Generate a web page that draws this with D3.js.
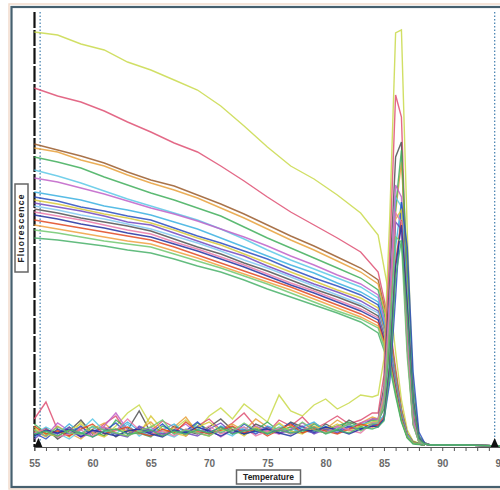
<!DOCTYPE html>
<html>
<head>
<meta charset="utf-8">
<script src="https://cdn.jsdelivr.net/npm/d3@7"></script>
<style>
  body { margin: 0; background: #fff; }
  svg { display: block; }
  .tick text { font-family: "Liberation Sans", sans-serif; font-weight: bold; font-size: 10px; fill: #6a6a6a; }
  .tick line { stroke: #555; }
</style>
</head>
<body>
<svg width="500" height="490"></svg>
<script>
// melt curve: temperature grid for the raw fluorescence traces
const fluorTemps = [55,57,59,61,63,65,67,69,71,73,75,77,79,81,83,84.5,85.5,86,86.5,87,87.5,88.5];

// one row per sample, fluorescence (arbitrary units)
const fluorValues = [
  [415,412,403,397,385,377,367,357,341,321,300,281,268,252,234,212,148,95,47,17,6,2],
  [359,351,345,336,325,315,304,295,281,266,250,235,222,209,195,175,122,79,38,14,5,2],
  [303,297,291,284,275,267,261,252,243,233,222,211,201,190,179,167,117,75,37,13,5,2],
  [299,295,287,281,272,264,257,249,239,229,218,207,197,186,175,163,114,73,36,13,5,2],
  [290,285,279,270,262,254,247,239,231,220,209,199,189,179,169,157,110,71,35,13,5,2],
  [277,271,264,256,248,241,234,227,218,208,197,187,178,169,160,149,104,67,33,12,4,2],
  [269,265,259,253,246,239,233,226,218,210,201,191,182,172,163,152,106,68,33,12,4,2],
  [255,251,247,241,237,232,225,218,209,200,191,182,174,164,155,145,102,65,32,12,4,2],
  [250,246,240,236,231,227,219,211,204,196,188,178,169,161,152,142,99,64,31,11,4,2],
  [247,243,238,233,229,224,217,209,202,193,184,175,166,157,149,139,97,63,31,11,4,2],
  [244,240,236,231,225,222,214,206,198,191,181,172,163,155,146,136,95,61,30,11,4,2],
  [241,237,232,228,223,218,211,204,196,187,179,170,161,152,143,134,94,60,29,11,4,2],
  [238,234,229,225,221,216,208,200,193,184,176,167,158,150,141,131,92,59,29,10,4,2],
  [235,231,227,222,217,213,205,198,190,182,173,164,156,147,138,129,90,58,28,10,4,2],
  [232,228,223,219,214,210,203,196,188,180,171,162,154,145,136,127,89,57,28,10,4,2],
  [227,223,219,215,211,207,200,192,184,176,168,160,151,142,133,124,87,56,27,10,4,2],
  [222,218,214,210,206,203,196,189,181,173,165,157,148,139,130,121,85,54,27,10,4,2],
  [217,214,210,206,203,200,193,186,179,171,163,154,145,136,128,119,83,54,26,10,4,2],
  [209,207,204,201,197,194,188,181,175,167,158,150,142,134,125,114,80,51,25,9,3,2]
];
const fluorColors = ["#c9d94a","#de4f72","#9a5a2a","#e8a03a","#3fae5a","#5cc8e6","#c060c8",
  "#3ab0e0","#2a4cc0","#d8c838","#7048c0","#80c8f0","#505050","#e878a8","#2030a0",
  "#e04820","#f0a040","#70c870","#48b068"];

// derivative (-dF/dT) traces
const derivTemps = [55,56,57,58,59,60,61,62,63,64,65,66,67,68,69,70,71,72,73,74,75,76,77,78,79,80,81,82,83,84,
  84.5,85,85.5,86,86.5,87,87.5,88,88.5,89,90,92,95];

const derivValues = [
  [20,13,17,10,25,15,11,21,34,42,22,14,18,27,17,31,39,28,43,34,25,52,36,31,42,48,38,44,52,50, 52,88,230,414,417,215,55,8,3,2,2,2,1],
  [28,45,17,11,20,14,23,31,13,18,16,26,20,11,21,28,17,24,34,20,14,27,21,30,18,24,31,23,27,34, 34,72,195,352,330,150,36,6,3,2,2,2,1],
  [11,19,8,16,27,13,20,10,17,36,14,11,21,16,13,20,28,17,13,23,18,16,25,20,14,23,17,27,21,28, 28,60,168,290,305,130,30,5,3,2,2,2,1],
  [16,10,21,14,8,18,24,14,11,17,25,13,20,30,14,11,18,23,16,28,20,13,21,17,24,18,27,20,24,30, 28,38,100,235,285,175,60,11,4,2,2,2,1],
  [23,14,10,20,13,17,11,27,18,14,10,21,16,13,24,17,14,20,13,17,25,16,20,14,23,17,21,25,20,27, 26,38,105,240,297,180,62,11,4,2,2,2,1],
  [13,20,14,8,17,28,16,13,23,11,18,14,10,17,21,13,16,11,20,14,17,23,13,18,16,21,14,20,23,25, 26,52,145,250,240,110,27,5,3,2,2,2,1],
  [17,11,24,16,10,14,21,34,17,13,20,11,16,23,13,18,10,17,14,21,16,13,18,24,17,14,20,17,24,28, 28,54,150,262,250,112,28,5,3,2,2,2,1],
  [10,16,13,23,14,20,13,17,25,16,11,17,23,14,18,13,21,16,18,13,21,17,14,20,25,16,18,23,17,24, 24,32,88,200,245,150,52,10,3,2,2,2,1],
  [14,8,18,13,21,10,16,24,13,20,14,23,13,16,25,14,20,13,23,16,13,18,24,17,14,20,16,21,18,23, 22,27,65,150,245,200,75,15,4,2,2,2,1],
  [18,13,11,17,23,14,10,18,16,13,31,17,14,11,20,25,16,18,11,20,14,24,16,13,21,17,23,16,21,25, 26,50,132,228,237,100,24,5,3,2,2,2,1],
  [8,17,13,20,11,16,18,13,10,21,16,13,17,14,11,18,24,14,17,13,20,14,17,21,13,18,14,20,17,21, 22,46,128,225,218,98,23,5,3,2,2,2,1],
  [21,13,16,11,18,23,13,17,20,14,11,18,14,25,16,13,17,21,14,18,11,17,23,14,18,16,13,18,23,20, 22,30,82,185,227,140,48,9,3,2,2,2,1],
  [14,18,10,13,17,11,20,16,28,17,13,16,11,18,14,21,13,17,20,11,16,18,13,17,20,14,21,17,14,24, 24,48,136,234,225,100,24,5,3,2,2,2,1],
  [11,17,14,18,10,17,14,11,16,18,13,10,17,14,20,16,11,17,13,16,18,14,11,17,16,20,17,13,18,21, 20,28,80,180,222,140,46,9,3,2,2,2,1],
  [17,11,20,14,13,21,17,14,11,16,20,27,13,17,14,11,18,16,24,17,14,20,16,25,17,14,18,23,16,23, 24,44,122,210,205,90,22,5,3,2,2,2,1],
  [13,16,11,17,14,10,16,18,13,14,17,11,16,13,17,14,20,13,16,18,13,17,14,16,20,13,17,14,20,18, 20,26,75,170,207,130,44,8,3,2,2,2,1]
];
const derivColors = ["#c9d94a","#de4f72","#505050","#e8a03a","#3fae5a","#5cc8e6","#c060c8",
  "#3ab0e0","#2a4cc0","#d8c838","#7048c0","#e04820","#e878a8","#2030a0","#70c870","#48b068"];

const xTicks = d3.range(55, 96, 1);

const svg = d3.select("svg");

// outer frame
svg.append("rect").attr("x", 9).attr("y", 4).attr("width", 500).attr("height", 485)
  .attr("fill", "none").attr("stroke", "#f2dccd").attr("stroke-width", 1.5);
svg.append("rect").attr("x", 11.5).attr("y", 7).attr("width", 500).attr("height", 480)
  .attr("fill", "none").attr("stroke", "#46606f").attr("stroke-width", 2.2);

const x = d3.scaleLinear().domain([55, 95]).range([34.3, 500.5]);
const y = d3.scaleLinear().domain([0, 435]).range([447, 12]);

// bottom axis
const ax = svg.append("g")
  .attr("transform", "translate(0," + y(0) + ")")
  .call(d3.axisBottom(x).tickValues(xTicks).tickSize(4).tickPadding(9)
    .tickFormat(d => d % 5 === 0 ? d : ""));
ax.select(".domain").attr("stroke", "#555").attr("stroke-width", 1.2);

// left axis line (thick dashed black) and cursor lines
svg.append("line").attr("x1", 34.5).attr("x2", 34.5).attr("y1", 12).attr("y2", y(0))
  .attr("stroke", "#111").attr("stroke-width", 2.2).attr("stroke-dasharray", "16,2");
svg.append("line").attr("x1", x(55.5)).attr("x2", x(55.5)).attr("y1", 12).attr("y2", y(0))
  .attr("stroke", "#4f88b4").attr("stroke-width", 1.3).attr("stroke-dasharray", "1.5,2");
svg.append("line").attr("x1", x(94.5)).attr("x2", x(94.5)).attr("y1", 12).attr("y2", y(0))
  .attr("stroke", "#4f88b4").attr("stroke-width", 1.3).attr("stroke-dasharray", "1.5,2");

const line = d3.line().x(d => x(d[0])).y(d => y(d[1]));

const plot = svg.append("g");

plot.selectAll("path.fluor")
  .data(fluorValues)
  .join("path")
  .attr("class", "fluor")
  .attr("d", v => line(v.map((val, i) => [fluorTemps[i], val])))
  .attr("fill", "none")
  .attr("stroke", (v, i) => fluorColors[i])
  .attr("stroke-width", 1.4)
  .attr("stroke-opacity", 0.85);

plot.selectAll("path.deriv")
  .data(derivValues)
  .join("path")
  .attr("class", "deriv")
  .attr("d", v => line(v.map((val, i) => [derivTemps[i], val])))
  .attr("fill", "none")
  .attr("stroke", (v, i) => derivColors[i])
  .attr("stroke-width", 1.4)
  .attr("stroke-opacity", 0.85);

// cursor markers
function tri(cx) {
  const b = y(0);
  return "M" + (cx - 4) + "," + b + "L" + cx + "," + (b - 9) + "L" + (cx + 4) + "," + b + "Z";
}
svg.append("path").attr("d", tri(x(55.35))).attr("fill", "#111");
svg.append("path").attr("d", tri(x(94.5))).attr("fill", "#111");

// axis titles in boxes
const yl = svg.append("g").attr("transform", "translate(21.5,228)");
yl.append("rect").attr("x", -6.5).attr("y", -44).attr("width", 13).attr("height", 88)
  .attr("fill", "#fff").attr("stroke", "#666").attr("stroke-width", 1.5);
yl.append("text").attr("transform", "rotate(-90)")
  .attr("text-anchor", "middle").attr("dy", "0.35em")
  .style("font-family", "Liberation Sans, sans-serif").style("font-weight", "bold")
  .style("font-size", "8.5px").style("letter-spacing", "1.2px").attr("fill", "#222")
  .text("Fluorescence");

const xl = svg.append("g").attr("transform", "translate(268.5,477)");
xl.append("rect").attr("x", -32).attr("y", -7).attr("width", 64).attr("height", 14)
  .attr("fill", "#fff").attr("stroke", "#666").attr("stroke-width", 1.5);
xl.append("text").attr("text-anchor", "middle").attr("dy", "0.35em")
  .style("font-family", "Liberation Sans, sans-serif").style("font-weight", "bold")
  .style("font-size", "8.5px").attr("fill", "#222")
  .text("Temperature");
</script>
</body>
</html>
